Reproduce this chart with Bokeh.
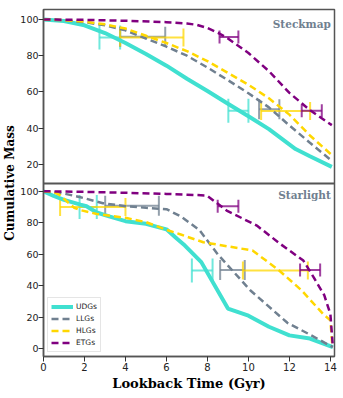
from bokeh.plotting import figure
from bokeh.models import (Range1d, Whisker, TeeHead, ColumnDataSource, Legend,
                          LegendItem, Label, FixedTicker, Span)
from bokeh.embed import file_html
from bokeh.resources import INLINE

# ---------------- data ----------------
# Steckmap panel (top)
stk_udg_t = [0, 1, 2, 3, 4, 5, 6, 7, 8, 9, 10, 11, 12.3, 13, 14.07]
stk_udg_m = [100, 99.2, 96.8, 92.5, 87, 81, 74.5, 67.3, 60.5, 53.5, 46.6, 39.5, 28.5, 24.5, 18.7]
stk_llg_t = [0, 1, 2, 3, 4, 5, 6, 7, 8, 9, 10, 11, 12, 13, 14.07]
stk_llg_m = [100, 99.5, 98.5, 96.8, 94, 89.5, 85, 80, 73.5, 66.5, 59.3, 51.5, 41.5, 32, 22]
stk_hlg_t = [0, 1, 2, 3, 4, 5, 6, 7, 8, 9, 10, 11, 12, 13, 14.07]
stk_hlg_m = [100, 99.7, 98.8, 97.3, 95, 91, 87, 82.5, 77, 70.5, 64, 56.5, 47.5, 36, 25.2]
stk_etg_t = [0, 2, 4, 6, 7, 7.5, 8, 8.54, 9, 10, 11, 12, 13, 14.07]
stk_etg_m = [100, 99.8, 99.3, 98.5, 97.8, 97, 95.3, 92.5, 89.5, 81.5, 71.5, 59.5, 50, 41.7]

# Starlight panel (bottom)
str_udg_t = [0, 0.5, 1.0, 1.8, 2.1, 2.6, 3.2, 4.0, 5.0, 6.0, 6.5, 6.9, 7.7, 9.0, 10.0, 11.0, 12.0, 13.0, 14.12]
str_udg_m = [100, 97, 94.5, 91.5, 90.5, 86.5, 84, 81, 79.3, 75.8, 70, 65.5, 55, 25.5, 21, 14, 8.5, 6.5, 1]
str_llg_t = [0, 1.0, 1.8, 2.9, 4.0, 5.0, 6.0, 6.7, 7.6, 8.5, 10.1, 11.9, 13.0, 14.12]
str_llg_m = [100, 98.5, 96.2, 92.4, 90.5, 89.5, 88.6, 84, 75.5, 60, 37, 16.5, 9, 1]
str_hlg_t = [0, 0.5, 0.8, 1.5, 1.8, 2.6, 4.0, 5.0, 6.0, 6.7, 7.8, 10.2, 11.5, 12.6, 13.65, 14.0, 14.1]
str_hlg_m = [100, 99.5, 97.5, 89.5, 88, 85.6, 83.1, 80.4, 75.5, 72.5, 67.6, 62.4, 49.7, 37, 22, 18, 1]
str_etg_t = [0, 2, 4, 6, 7.0, 7.97, 8.94, 10.41, 11.55, 12.68, 13.2, 13.7, 14.0, 14.12]
str_etg_m = [100, 99.6, 99, 98.3, 97.8, 97.3, 87.7, 78.2, 66.6, 56, 45, 34, 22, 1]

# error bars: level, lower, upper
stk_err = {
    "UDGs": ([90, 49.7], [2.73, 9.02], [3.74, 10.0]),
    "LLGs": ([90.5, 50.5], [3.74, 10.52], [5.94, 11.51]),
    "HLGs": ([90, 49.5], [3.74, 10.62], [6.83, 13.01]),
    "ETGs": ([90.3, 49.7], [8.59, 12.6], [9.51, 13.58]),
}
str_err = {
    "UDGs": ([90, 49.7], [1.76, 7.24], [2.6, 8.25]),
    "LLGs": ([90.7, 50], [3.01, 8.62], [5.63, 9.82]),
    "HLGs": ([90, 49.7], [0.81, 9.73], [4.0, 12.9]),
    "ETGs": ([90.5, 50], [8.5, 12.52], [9.51, 13.5]),
}

names = ["UDGs", "LLGs", "HLGs", "ETGs"]
colors = {"UDGs": "#40E0D0", "LLGs": "#708090", "HLGs": "#FFD700", "ETGs": "#800080"}
caps = {"UDGs": 24, "LLGs": 20, "HLGs": 18, "ETGs": 13}

x_ticks = [0, 2, 4, 6, 8, 10, 12, 14]
top_ticks = [20, 40, 60, 80, 100]
bot_ticks = [0, 20, 40, 60, 80, 100]

# ---------------- geometry ----------------
LEFT, FRAME_W, RIGHT = 43, 291, 8
TOP, FRAME_H, BOTTOM = 9, 347, 41
PANEL_BOT_H = 173          # pixel height of the lower panel
BOT_LO, BOT_HI = -4.9, 104.9
TOP_LO_V, TOP_HI = 9.5, 105.5

bot_scale = PANEL_BOT_H / (BOT_HI - BOT_LO)
main_hi = BOT_LO + FRAME_H / bot_scale
top_scale = (FRAME_H - PANEL_BOT_H) / (TOP_HI - TOP_LO_V)
top_lo = TOP_HI - FRAME_H / top_scale


def top_to_main(v):
    px_from_bottom = (v - top_lo) * top_scale
    return BOT_LO + px_from_bottom / bot_scale


TICK_FONT = "DejaVu Sans"
SERIF = "DejaVu Serif"
OUTLINE = "#555555"

p = figure(width=LEFT + FRAME_W + RIGHT, height=TOP + FRAME_H + BOTTOM,
           x_range=Range1d(0, 14.2), y_range=Range1d(BOT_LO, main_hi),
           output_backend="svg", toolbar_location=None,
           min_border_left=LEFT, min_border_right=RIGHT,
           min_border_top=TOP, min_border_bottom=BOTTOM)
p.extra_y_ranges = {"top": Range1d(top_lo, TOP_HI)}
p.grid.visible = False
p.outline_line_color = OUTLINE
p.outline_line_width = 1.5

# y axis: ticks of both panels on one axis
tick_pos = [float(t) for t in bot_ticks] + [round(top_to_main(t), 4) for t in top_ticks]
overrides = {float(t): str(t) for t in bot_ticks}
for t in top_ticks:
    overrides[round(top_to_main(t), 4)] = str(t)
ya = p.yaxis[0]
ya.ticker = FixedTicker(ticks=tick_pos)
ya.major_label_overrides = overrides
ya.axis_label = "Cumulative Mass"

xa = p.xaxis[0]
xa.ticker = FixedTicker(ticks=x_ticks)
xa.axis_label = "Lookback Time (Gyr)"

for ax in (xa, ya):
    ax.axis_label_text_font = SERIF
    ax.axis_label_text_font_style = "bold"
    ax.axis_label_text_font_size = "13px"
    ax.axis_label_text_color = "black"
    ax.major_label_text_font = TICK_FONT
    ax.major_label_text_font_size = "10px"
    ax.major_label_text_color = "#222222"
    ax.major_tick_out = 5
    ax.major_tick_in = 0
    ax.minor_tick_out = 0
    ax.minor_tick_in = 0
    ax.axis_line_color = OUTLINE
    ax.axis_line_width = 1.5
    ax.major_tick_line_color = "#333333"
xa.major_label_standoff = 1
xa.axis_label_standoff = 2
ya.major_label_standoff = 0
ya.axis_label_standoff = 0
ya.axis_label_text_font_size = "12px"
ya.major_label_text_font_size = "9.5px"

# separator between panels
p.add_layout(Span(location=BOT_HI, dimension="width", line_color=OUTLINE, line_width=2))


def add_panel(data, errs, range_name):
    renderers = {}
    for n, (t, m) in zip(names, data):
        if n == "UDGs":
            r = p.line(t, m, line_color=colors[n], line_width=4, y_range_name=range_name)
        else:
            r = p.line(t, m, line_color=colors[n], line_width=2.5, line_dash="7 4",
                       y_range_name=range_name)
        renderers[n] = r
    for n in names:
        lev, lo, hi = errs[n]
        src = ColumnDataSource(dict(y=lev, lo=lo, hi=hi))
        c = colors[n]
        w = Whisker(source=src, base="y", lower="lo", upper="hi", dimension="width",
                    line_color=c, line_width=2, line_alpha=0.75, y_range_name=range_name,
                    lower_head=TeeHead(size=caps[n], line_color=c, line_width=2, line_alpha=0.75),
                    upper_head=TeeHead(size=caps[n], line_color=c, line_width=2, line_alpha=0.75))
        p.add_layout(w)
    return renderers


add_panel([(stk_udg_t, stk_udg_m), (stk_llg_t, stk_llg_m),
           (stk_hlg_t, stk_hlg_m), (stk_etg_t, stk_etg_m)], stk_err, "top")
rs = add_panel([(str_udg_t, str_udg_m), (str_llg_t, str_llg_m),
                (str_hlg_t, str_hlg_m), (str_etg_t, str_etg_m)], str_err, "default")

p.add_layout(Label(x=14.02, y=100.6, y_range_name="top", text="Steckmap",
                   text_align="right", text_baseline="top",
                   text_font=SERIF, text_font_style="bold", text_font_size="10.5px",
                   text_color="#708090"))
p.add_layout(Label(x=14.02, y=101.2, text="Starlight", text_align="right", text_baseline="top",
                   text_font=SERIF, text_font_style="bold", text_font_size="10.5px",
                   text_color="#708090"))

legend = Legend(items=[LegendItem(label=n, renderers=[rs[n]]) for n in names],
                location="bottom_left")
legend.margin = 4
legend.padding = 3
legend.spacing = 1
legend.glyph_width = 22
legend.glyph_height = 11
legend.label_height = 11
legend.label_standoff = 3
legend.label_text_font = TICK_FONT
legend.label_text_font_size = "7.5px"
legend.label_text_color = "#222222"
legend.border_line_color = "#cccccc"
legend.border_line_width = 1
legend.background_fill_alpha = 0.85
p.add_layout(legend)

open("out.html", "w").write(file_html(p, INLINE))
